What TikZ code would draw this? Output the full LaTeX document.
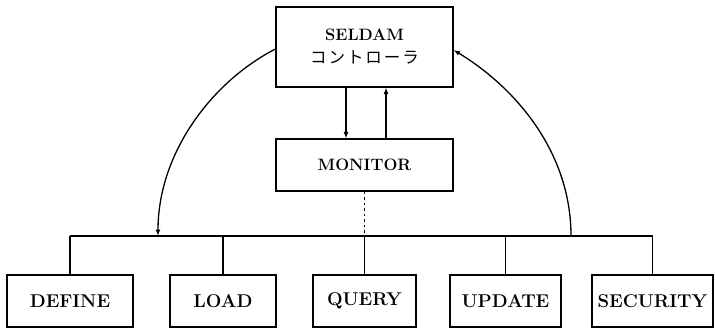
\documentclass[tikz,border=0pt]{standalone}
\usepackage{fontspec}
\newfontfamily\jpfont[LetterSpace=12]{Noto Sans CJK JP}
\usetikzlibrary{arrows.meta}
\begin{document}
\begin{tikzpicture}[x=1pt,y=-1pt,
  box/.style={draw,line width=1.1pt,inner sep=0pt,align=center},
  lbl/.style={font=\fontsize{18.5}{20}\selectfont\bfseries},
  conn/.style={line width=1.1pt},
  arr/.style={line width=1.3pt,-{Latex[length=6.5pt,width=5pt]}}]
\useasboundingbox (0,0) rectangle (715,329);
\node[box,font=\fontsize{16.5}{23}\selectfont\bfseries,minimum width=177pt,minimum height=80pt] (seldam) at (364.5,47)
  {\addfontfeature{LetterSpace=10}SELDAM\\\jpfont\mdseries コントローラ};
\node[box,font=\fontsize{16.5}{20}\selectfont\bfseries,minimum width=177pt,minimum height=52pt] (monitor) at (364.5,165) {MONITOR};
\node[box,lbl,minimum width=126pt,minimum height=52pt] (define) at (70,301) {DEFINE};
\node[box,lbl,minimum width=106pt,minimum height=52pt] (load) at (223,301) {LOAD};
\node[box,lbl,minimum width=103pt,minimum height=52pt] (query) at (364.5,301) {QUERY};
\node[box,lbl,minimum width=111pt,minimum height=52pt] (update) at (505.5,301) {UPDATE};
\node[box,lbl,minimum width=121pt,minimum height=52pt] (security) at (652.5,301) {SECURITY};
\coordinate (bus) at (0,236);
\coordinate (cl) at (158,236);
\coordinate (cr) at (571,236);
% bus
\draw[conn] (define.north|-bus) -- (security.north|-bus);
\foreach \n in {define,load,query,update,security}
  \draw[conn] (\n.north) -- (\n.north|-bus);
\draw[conn,dash pattern=on 2.5pt off 3pt] (monitor.south) -- (query.north|-bus);
% vertical arrows
\draw[arr] ([xshift=-18.5pt]seldam.south) -- ([xshift=-18.5pt]monitor.north);
\draw[arr] ([xshift=21.5pt]monitor.north) -- ([xshift=21.5pt]seldam.south);
% curved arrows
\draw[arr] ([yshift=-2pt]seldam.west) .. controls (213,81) and (158,152) .. (cl);
\draw[arr] (cr) .. controls (571,150) and (513,86) .. ([yshift=-3pt]seldam.east);
\end{tikzpicture}
\end{document}
